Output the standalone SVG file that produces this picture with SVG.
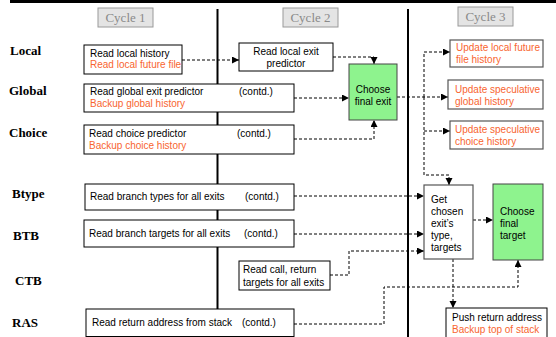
<svg xmlns="http://www.w3.org/2000/svg" width="556" height="337" viewBox="0 0 556 337">
<style>
.cyc{fill:#e4e4e4;stroke:#9a9a9a;stroke-width:1}
.cyct{font-family:"Liberation Serif",serif;font-size:13px;fill:#8a8a8a;text-anchor:middle}
.row{font-family:"Liberation Serif",serif;font-size:13px;font-weight:bold;fill:#000}
.box{fill:#fff;stroke:#000;stroke-width:1}
.ubox{fill:#fff;stroke:#555;stroke-width:1.2}
.grn{fill:#8ef38e;stroke:#444;stroke-width:1}
.t{font-family:"Liberation Sans",Arial,sans-serif;font-size:10px;fill:#000}
.o{fill:#f86530}
.c{text-anchor:middle}
.con{fill:none;stroke:#000;stroke-width:1;stroke-dasharray:3,2}
.sep{stroke:#000;stroke-width:2}
</style>
<defs>
<marker id="ah" markerUnits="userSpaceOnUse" markerWidth="8" markerHeight="8" refX="7" refY="3.5" orient="auto">
<path d="M0,0 L7,3.5 L0,7 z" fill="#000"/>
</marker>
</defs>
<rect width="556" height="337" fill="#fff"/>
<g id="frame">
<line x1="10" y1="1.5" x2="556" y2="1.5" stroke="#000" stroke-width="3"/>
<line class="sep" x1="217.5" y1="9" x2="217.5" y2="337"/>
<line class="sep" x1="408" y1="9" x2="408" y2="337"/>
</g>
<g id="cycles">
<g id="cycle1"><rect class="cyc" x="98" y="8" width="55" height="19"/><text class="cyct" x="125.5" y="22">Cycle 1</text></g>
<g id="cycle2"><rect class="cyc" x="283" y="8" width="55" height="19"/><text class="cyct" x="310.5" y="22">Cycle 2</text></g>
<g id="cycle3"><rect class="cyc" x="458" y="7" width="55" height="19"/><text class="cyct" x="485.5" y="21">Cycle 3</text></g>
</g>
<g id="rows">
<text class="row" x="10" y="55">Local</text>
<text class="row" x="9" y="95">Global</text>
<text class="row" x="9" y="137">Choice</text>
<text class="row" x="12" y="198">Btype</text>
<text class="row" x="13" y="240">BTB</text>
<text class="row" x="15" y="285">CTB</text>
<text class="row" x="12" y="327">RAS</text>
</g>
<g id="connectors">
<path class="con" marker-end="url(#ah)" d="M182,60 H239"/>
<path class="con" marker-end="url(#ah)" d="M333,57 H374 V64"/>
<path class="con" marker-end="url(#ah)" d="M294,98 H349"/>
<path class="con" marker-end="url(#ah)" d="M294,139 H374 V120"/>
<path class="con" marker-end="url(#ah)" d="M397,97 H448"/>
<path class="con" marker-end="url(#ah)" d="M424,97 V52 H450"/>
<path class="con" marker-end="url(#ah)" d="M424,131 H450"/>
<path class="con" marker-end="url(#ah)" d="M424,97 V175 H449 V185"/>
<path class="con" marker-end="url(#ah)" d="M294,196 H424"/>
<path class="con" marker-end="url(#ah)" d="M294,234 H424"/>
<path class="con" marker-end="url(#ah)" d="M330,275 H349 V251 H424"/>
<path class="con" marker-end="url(#ah)" d="M294,324 H384 V287 H518 V260"/>
<path class="con" marker-end="url(#ah)" d="M473,220 H493"/>
<path class="con" marker-end="url(#ah)" d="M453,259 V308"/>
</g>
<g id="local1"><rect class="box" x="84" y="45" width="98" height="29"/>
<text class="t" x="90" y="57">Read local history</text><text class="t o" x="90" y="68">Read local future file</text></g>
<g id="global1"><rect class="box" x="84" y="84" width="210" height="28"/>
<text class="t" x="90" y="95">Read global exit predictor</text><text class="t" x="239" y="95">(contd.)</text>
<text class="t o" x="90" y="107">Backup global history</text></g>
<g id="choice1"><rect class="box" x="84" y="125" width="210" height="29"/>
<text class="t" x="89" y="137">Read choice predictor</text><text class="t" x="237" y="137">(contd.)</text>
<text class="t o" x="89" y="149">Backup choice history</text></g>
<g id="localexit"><rect class="box" x="239" y="43" width="94" height="28"/>
<text class="t c" x="286" y="55">Read local exit</text><text class="t c" x="286" y="67">predictor</text></g>
<g id="chooseexit"><rect class="grn" x="349" y="64" width="48" height="56"/>
<text class="t c" x="373" y="93">Choose</text><text class="t c" x="373" y="105">final exit</text></g>
<g id="updlocal"><rect class="ubox" x="450" y="40" width="93" height="27"/>
<text class="t o" x="456" y="51">Update local future</text><text class="t o" x="456" y="63">file history</text></g>
<g id="updglobal"><rect class="ubox" x="448" y="80" width="95" height="29"/>
<text class="t o" x="455" y="93">Update speculative</text><text class="t o" x="455" y="105">global history</text></g>
<g id="updchoice"><rect class="ubox" x="450" y="121" width="93" height="28"/>
<text class="t o" x="455" y="133">Update speculative</text><text class="t o" x="455" y="145">choice history</text></g>
<g id="btype"><rect class="box" x="85" y="184" width="209" height="26"/>
<text class="t" x="90" y="200">Read branch types for all exits</text><text class="t" x="245" y="200">(contd.)</text></g>
<g id="btb"><rect class="box" x="84" y="220" width="210" height="27"/>
<text class="t" x="89" y="237">Read branch targets for all exits</text><text class="t" x="244" y="237">(contd.)</text></g>
<g id="ctb"><rect class="box" x="239" y="261" width="91" height="29"/>
<text class="t" x="243" y="273">Read call, return</text><text class="t" x="243" y="286">targets for all exits</text></g>
<g id="ras"><rect class="box" x="86" y="309" width="208" height="27.5"/>
<text class="t" x="92" y="326">Read return address from stack</text><text class="t" x="242" y="326">(contd.)</text></g>
<g id="getchosen"><rect class="ubox" x="424" y="185" width="49" height="74"/>
<text class="t" x="431" y="203">Get</text><text class="t" x="431" y="215">chosen</text><text class="t" x="431" y="227">exit’s</text><text class="t" x="431" y="239">type,</text><text class="t" x="431" y="251">targets</text></g>
<g id="choosetarget"><rect class="grn" x="493" y="184" width="50" height="76"/>
<text class="t" x="500" y="215">Choose</text><text class="t" x="500" y="227">final</text><text class="t" x="500" y="239">target</text></g>
<g id="push"><rect class="box" x="446" y="308" width="101" height="30"/>
<text class="t" x="452" y="321">Push return address</text><text class="t o" x="452" y="333">Backup top of stack</text></g>
</svg>
